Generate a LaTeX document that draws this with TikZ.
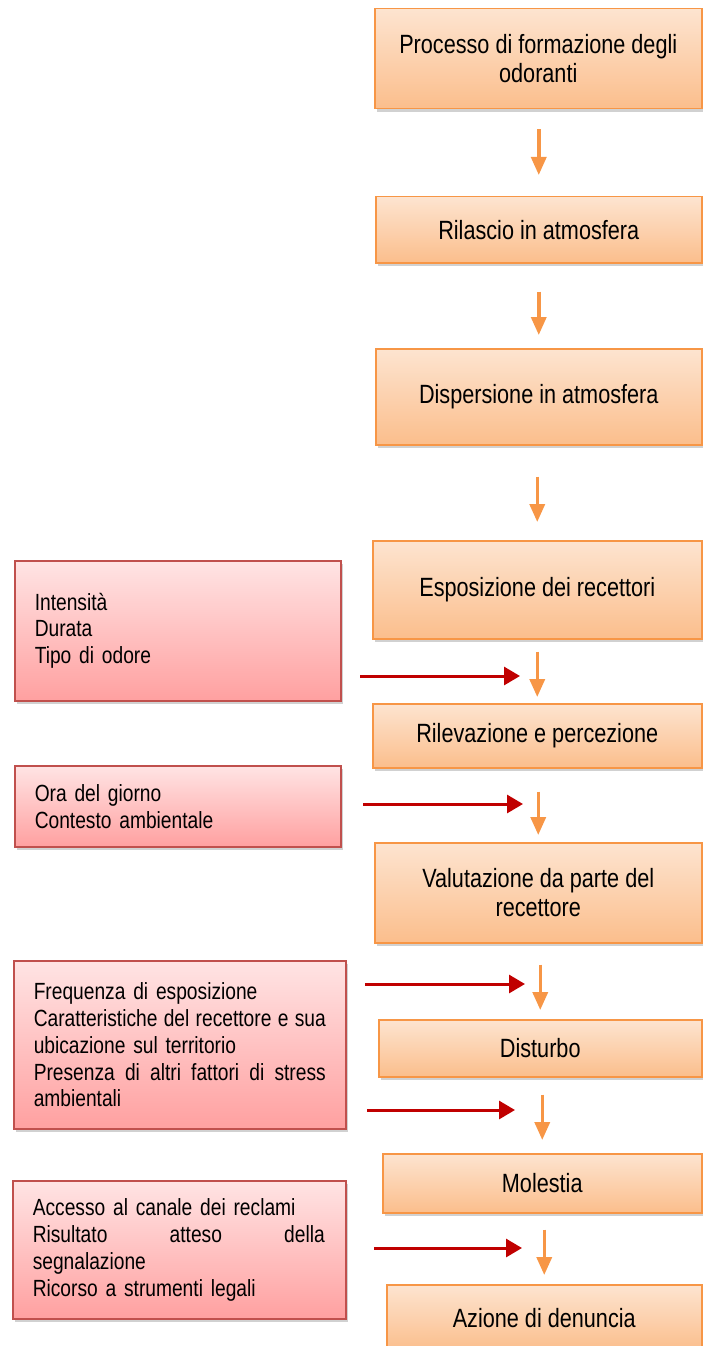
\documentclass[tikz,border=0pt]{standalone}
\usepackage{fontspec}
\setmainfont{Liberation Sans}[FakeStretch=0.82]
\usetikzlibrary{arrows.meta,shadows}

\definecolor{stepline}{RGB}{247,150,70}
\definecolor{steptop}{RGB}{253,228,208}
\definecolor{stepbot}{RGB}{251,190,140}
\definecolor{factorline}{RGB}{192,80,77}
\definecolor{factortop}{RGB}{255,228,228}
\definecolor{factorbot}{RGB}{255,160,160}
\definecolor{causered}{RGB}{192,0,0}

% a line spread over the whole box width
\newcommand{\fullline}[1]{\makebox[292bp][l]{#1}}

\tikzset{
  stepbox/.style={draw=stepline, line width=1.5bp, top color=steptop, bottom color=stepbot,
    anchor=north west, align=center, font=\fontsize{26.5}{29}\selectfont,
    drop shadow={shadow xshift=2bp, shadow yshift=-3bp, opacity=0.3, fill=black!60}},
  factorbox/.style={draw=factorline, line width=1.5bp, top color=factortop, bottom color=factorbot,
    anchor=north west, align=left, inner xsep=20bp, font=\fontsize{23.5}{27}\selectfont,
    drop shadow={shadow xshift=2bp, shadow yshift=-3bp, opacity=0.3, fill=black!60}},
  flowarrow/.style={draw=stepline, line width=3.5bp, -{Triangle[width=15bp,length=18bp]}},
  causearrow/.style={draw=causered, line width=3bp, -{Triangle[width=18bp,length=16bp]}}
}

\begin{document}
\begin{tikzpicture}[x=1bp, y=-1bp]
  \useasboundingbox (0,0) rectangle (702,1346);

  % main chain on the right
  \node[stepbox, minimum width=327bp, minimum height=100bp] (formazione) at (374,8) {Processo di formazione degli\\odoranti};
  \node[stepbox, minimum width=326bp, minimum height=66bp] (rilascio) at (375,196) {Rilascio in atmosfera};
  \node[stepbox, minimum width=326bp, minimum height=96bp] (dispersione) at (375,348) {Dispersione in atmosfera};
  \node[stepbox, minimum width=329bp, minimum height=98bp] (esposizione) at (372,540) {Esposizione dei recettori};
  \node[stepbox, minimum width=329bp, minimum height=64bp] (rilevazione) at (372,703) {Rilevazione e percezione};
  \node[stepbox, minimum width=327bp, minimum height=100bp] (valutazione) at (374,842) {Valutazione da parte del\\recettore};
  \node[stepbox, minimum width=323bp, minimum height=57bp] (disturbo) at (378,1019) {Disturbo};
  \node[stepbox, minimum width=319bp, minimum height=59bp] (molestia) at (382,1153) {Molestia};
  \node[stepbox, minimum width=315bp, minimum height=66bp] (denuncia) at (386,1284) {Azione di denuncia};

  % arrows between the steps
  \foreach \from/\to/\gapa/\gapb in {formazione/rilascio/20/21, rilascio/dispersione/28/13,
      dispersione/esposizione/31/18, esposizione/rilevazione/12/6, rilevazione/valutazione/23/7,
      valutazione/disturbo/21/9, disturbo/molestia/17/13, molestia/denuncia/16/9}
    \draw[flowarrow, shorten <=\gapa bp, shorten >=\gapb bp] (\from.south -| \to.north) -- (\to.north);

  % influencing factors on the left
  \node[factorbox, text width=286bp, minimum height=140bp] (fisici) at (14,560) {Intensità\\Durata\\Tipo di odore};
  \node[factorbox, text width=286bp, minimum height=81bp] (contesto) at (14,765) {Ora del giorno\\Contesto ambientale};
  \node[factorbox, text width=292bp, minimum height=168bp] (recettore) at (13,960)
    {Frequenza di esposizione\\\fullline{Caratteristiche\hfill del\hfill recettore\hfill e\hfill sua}\\ubicazione sul territorio\\\fullline{Presenza\hfill di\hfill altri\hfill fattori\hfill di\hfill stress}\\ambientali};
  \node[factorbox, text width=293bp, minimum height=138bp] (reclami) at (12,1180)
    {Accesso al canale dei reclami\\\fullline{Risultato\hfill atteso\hfill della}\\segnalazione\\Ricorso a strumenti legali};

  % red arrows
  \coordinate (fisici-a) at (360,676);   \coordinate (fisici-b) at (520,676);
  \coordinate (contesto-a) at (363,804); \coordinate (contesto-b) at (523,804);
  \coordinate (recettore-a) at (365,984); \coordinate (recettore-b) at (525,984);
  \coordinate (recettore-c) at (367,1110); \coordinate (recettore-d) at (515,1110);
  \coordinate (reclami-a) at (374,1248); \coordinate (reclami-b) at (522,1248);
  \draw[causearrow] (fisici-a) -- (fisici-b);
  \draw[causearrow] (contesto-a) -- (contesto-b);
  \draw[causearrow] (recettore-a) -- (recettore-b);
  \draw[causearrow] (recettore-c) -- (recettore-d);
  \draw[causearrow] (reclami-a) -- (reclami-b);
\end{tikzpicture}
\end{document}
